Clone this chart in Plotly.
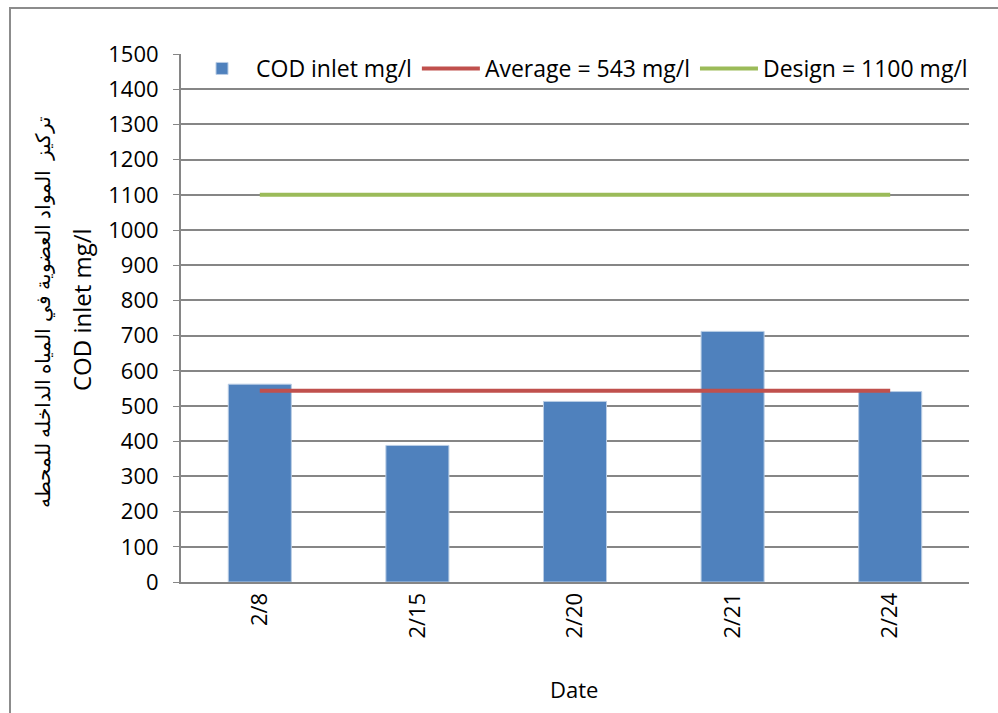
import plotly.graph_objects as go

# COD inlet concentrations by sampling date
dates = ["2/8", "2/15", "2/20", "2/21", "2/24"]
cod_inlet = [562, 388, 513, 712, 541]
average_value = 543
design_value = 1100

y_ticks = list(range(0, 1501, 100))

FONT = "'Open Sans', Lato, sans-serif"
GRID = "#868686"

fig = go.Figure()
fig.add_trace(go.Bar(
    x=dates, y=cod_inlet, name="COD inlet mg/l",
    marker=dict(color="#4F81BD", line=dict(color="#B9CDE5", width=1)),
    width=0.4,
))
fig.add_trace(go.Scatter(
    x=dates, y=[average_value] * len(dates), mode="lines",
    name=f"Average = {average_value} mg/l",
    line=dict(color="#C0504D", width=4),
))
fig.add_trace(go.Scatter(
    x=dates, y=[design_value] * len(dates), mode="lines",
    name=f"Design = {design_value} mg/l",
    line=dict(color="#9BBB59", width=4),
))

L, R, T, B = 181, 29, 54, 131
W, H = 998, 713
pw, ph = W - L - R, H - T - B

def px(x):
    return (x - L) / pw

def py(y):
    return (H - B - y) / ph

fig.update_layout(
    width=W, height=H,
    margin=dict(l=L, r=R, t=T, b=B),
    paper_bgcolor="white", plot_bgcolor="white",
    font=dict(family=FONT, size=22, color="black"),
    bargap=0.6,
    showlegend=True,
    legend=dict(
        orientation="h", x=px(188), y=py(47), xanchor="left", yanchor="top",
        font=dict(size=23, family=FONT), bgcolor="rgba(255,255,255,0)",
        itemwidth=58, tracegroupgap=0, traceorder="normal",
    ),
    xaxis=dict(
        type="category", tickangle=-90, showline=True, linecolor=GRID, linewidth=2,
        showgrid=False, ticks="", ticklabelstandoff=0,
        tickfont=dict(size=22, family=FONT),
        range=[-0.5, len(dates) - 0.5],
    ),
    yaxis=dict(
        range=[0, 1500], tickvals=y_ticks, showline=True, linecolor=GRID, linewidth=2,
        gridcolor=GRID, gridwidth=1.5, ticks="outside", ticklen=6, tickcolor=GRID,
        ticklabelstandoff=10,
        tickfont=dict(size=22, family=FONT), zeroline=False,
    ),
    shapes=[dict(
        type="rect", xref="paper", yref="paper",
        x0=px(10), x1=px(1010), y0=py(730), y1=py(8),
        line=dict(color="#8C8C8C", width=2), fillcolor="rgba(0,0,0,0)", layer="below",
    )],
    annotations=[
        dict(
            text="تركيز  المواد العضوية في المياه الداخله للمحطه",
            xref="paper", yref="paper", x=px(42), y=py(312),
            xanchor="center", yanchor="middle",
            textangle=-90, showarrow=False, font=dict(size=20, family=FONT),
        ),
        dict(
            text="COD inlet mg/l",
            xref="paper", yref="paper", x=px(81), y=py(310),
            xanchor="center", yanchor="middle",
            textangle=-90, showarrow=False, font=dict(size=24, family=FONT),
        ),
        dict(
            text="Date", xref="paper", yref="paper", x=px(574), y=py(689),
            xanchor="center", yanchor="middle",
            showarrow=False, font=dict(size=22, family=FONT),
        ),
    ],
)

fig.write_html("out.html")
